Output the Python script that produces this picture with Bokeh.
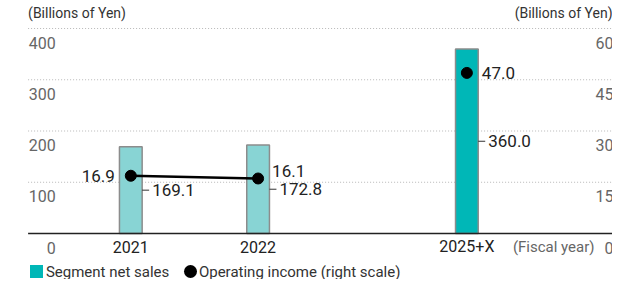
from bokeh.plotting import figure
from bokeh.models import Range1d
from bokeh.core.properties import value
from bokeh.embed import file_html
from bokeh.resources import INLINE

# ---------------- data ----------------
categories = ["2021", "2022", "2025+X"]
net_sales = [169.1, 172.8, 360.0]          # left scale, billions of yen
op_income = [16.9, 16.1, 47.0]             # right scale, billions of yen
left_ticks = [0, 100, 200, 300, 400]
right_ticks = [0, 15, 30, 45, 60]
unit_label = "(Billions of Yen)"
year_label = "(Fiscal year)"
legend_labels = ["Segment net sales", "Operating income (right scale)"]

# ---------------- layout (pixels) ----------------
W, H = 612, 279
X0_PX, X_STEP = 130.3, 127.3      # pixel of first category, px per x-unit
BASE_PX, PX_PER = 233, 0.5125     # pixel of zero line, px per left-unit
RIGHT_MAX, LEFT_MAX = 60, 400
cat_pos = [0, 1, 2.64]            # horizontal slot of each category
FONT = value("Roboto")

def xd(px):
    return (px - X0_PX) / X_STEP

def yd(px):
    return (BASE_PX - px) / PX_PER

ratio = RIGHT_MAX / LEFT_MAX
p = figure(width=W, height=H, output_backend="svg", toolbar_location=None,
           x_axis_location=None, y_axis_location=None, min_border=0,
           x_range=Range1d(xd(0), xd(W)), y_range=Range1d(yd(H), yd(0)))
p.extra_y_ranges = {"right": Range1d(yd(H) * ratio, yd(0) * ratio)}
p.xgrid.visible = False
p.ygrid.visible = False
p.outline_line_color = None
p.background_fill_color = "white"
p.border_fill_color = "white"

x_left, x_right = xd(27.6), xd(W)

# grid lines
grid_y = left_ticks[1:]
p.segment(x0=[x_left] * len(grid_y), x1=[x_right] * len(grid_y), y0=grid_y, y1=grid_y,
          line_color="#b8b8b8", line_width=1, line_dash="1 2")

# bars
bar_w = 22.7 / X_STEP
bar_colors = ["#88d4d4", "#88d4d4", "#00b7b7"]
p.vbar(x=cat_pos, top=net_sales, bottom=0, width=bar_w, fill_color=bar_colors,
       line_color="#8c8c8c", line_width=1.5)

# baseline
p.segment(x0=[x_left], x1=[x_right], y0=[0], y1=[0], line_color="#222222", line_width=1.5)

# operating income line (actuals only) and dots
p.line(x=cat_pos[:2], y=op_income[:2], y_range_name="right", line_color="black", line_width=2.5)
p.scatter(x=cat_pos, y=op_income, y_range_name="right", size=11, fill_color="black", line_color="black")

# net sales labels with leader ticks at mid-height of bars
mid = [v / 2 for v in net_sales]
edge = [x + bar_w / 2 for x in cat_pos]
p.segment(x0=edge, x1=[e + 7 / X_STEP for e in edge], y0=mid, y1=mid, line_color="#333333", line_width=1)
p.text(x=edge, y=mid, text=[f"{v:.1f}" for v in net_sales], x_offset=10, text_align="left",
       text_baseline="middle", text_font=FONT, text_font_size="17px", text_color="#222222")

# operating income labels
op_align = ["right", "left", "left"]
op_dx = [-16, 14, 15]
op_dy = [0, -7, 0]
p.text(x=cat_pos, y=op_income, y_range_name="right", text=[f"{v:.1f}" for v in op_income],
       x_offset=op_dx, y_offset=op_dy, text_align=op_align, text_baseline="middle",
       text_font=FONT, text_font_size="17px", text_color="#222222")

# left tick labels (below their grid lines)
p.text(x=[xd(55.3)] * len(left_ticks), y=left_ticks, text=[str(t) for t in left_ticks],
       y_offset=14, text_align="right", text_baseline="middle", text_font=FONT,
       text_font_size="16px", text_color="#666666")
# right tick labels (run off the right edge, as in the original)
p.text(x=[xd(613)] * len(right_ticks), y=right_ticks, y_range_name="right",
       text=[str(t) for t in right_ticks], y_offset=14, text_align="right", text_baseline="middle",
       text_font=FONT, text_font_size="16px", text_color="#666666")

# unit titles
p.text(x=[x_left], y=[LEFT_MAX], text=[unit_label], y_offset=-16, text_align="left",
       text_baseline="middle", text_font=FONT, text_font_size="14px", text_color="#333333")
p.text(x=[xd(612)], y=[LEFT_MAX], text=[unit_label], y_offset=-16, text_align="right",
       text_baseline="middle", text_font=FONT, text_font_size="14px", text_color="#333333")

# category labels
p.text(x=cat_pos, y=[0] * 3, text=categories, y_offset=13, text_align="center",
       text_baseline="middle", text_font=FONT, text_font_size="16px", text_color="#222222")
p.text(x=[xd(594)], y=[0], text=[year_label], y_offset=13, text_align="right",
       text_baseline="middle", text_font=FONT, text_font_size="15px", text_color="#666666")

# legend
leg_y = yd(271)
p.rect(x=[xd(36)], y=[leg_y], width=13, height=13, width_units="screen", height_units="screen",
       fill_color="#00b7b7", line_color=None)
p.scatter(x=[xd(190)], y=[leg_y], size=13, fill_color="black", line_color=None)
p.text(x=[xd(45.4), xd(198.4)], y=[leg_y, leg_y], text=legend_labels, text_align="left",
       text_baseline="middle", text_font=FONT, text_font_size="15px", text_color="#333333")

open("out.html", "w").write(file_html(p, INLINE))
